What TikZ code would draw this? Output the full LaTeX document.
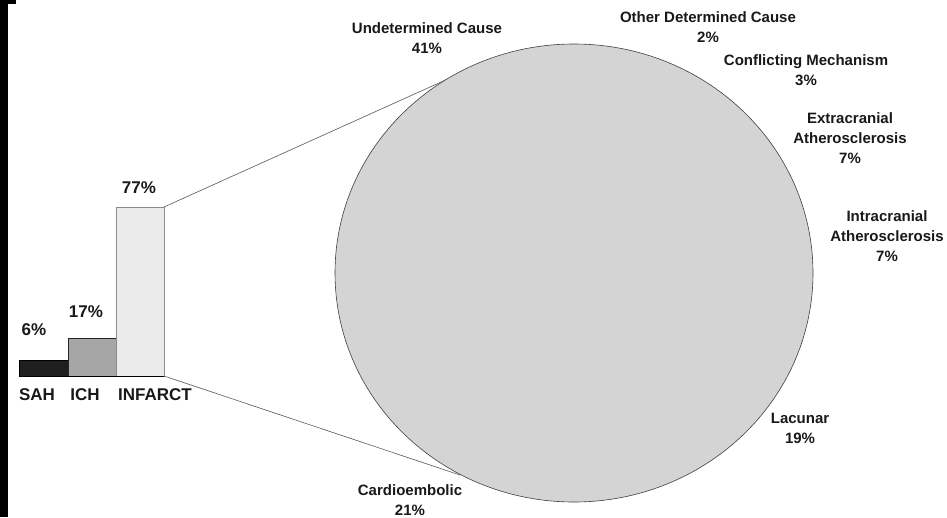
\documentclass[tikz,border=0pt]{standalone}
\usepackage{fontspec}
\setmainfont{Liberation Sans}
\usetikzlibrary{shapes.geometric}
\begin{document}
\begin{tikzpicture}[x=1pt,y=-1pt,
  lbl/.style={font=\bfseries\fontsize{15}{20}\selectfont, align=center, text=black!90, inner sep=0},
  barlbl/.style={font=\bfseries\fontsize{17}{20}\selectfont, text=black!90, inner sep=0},
  bar/.style={anchor=south west, inner sep=0, outer sep=0},
  zoomline/.style={draw=black!65, line width=0.6pt}]
\useasboundingbox (0,0) rectangle (947,517);
\fill[white] (0,0) rectangle (947,517);
% bars
\node[bar, fill=black!88, draw=black, line width=0.6pt, minimum height=16, minimum width=49] (sah) at (19,376) {};
\node[bar, fill=black!35, draw=black!85, line width=0.6pt, minimum height=38, minimum width=48] (ich) at (68,376) {};
\node[bar, fill=black!8, draw=black!45, line width=0.6pt, minimum height=169, minimum width=48] (inf) at (116,376) {};
\draw[black, line width=0.8pt] (sah.south west) -- (inf.south east);
% zoom connectors
\coordinate (t1) at (450,78);
\coordinate (t2) at (460,475);
\draw[zoomline] (inf.north east) -- (t1);
\draw[zoomline] (inf.south east) -- (t2);
% pie
\node[ellipse, fill=black!17, draw=black!75, line width=0.6pt, minimum width=478, minimum height=458, inner sep=0] (pie) at (574,273) {};
% bar labels
\node[barlbl] (p6) at (34,330) {6\%};
\node[barlbl] (p17) at (86,312) {17\%};
\node[barlbl] (p77) at (139,188) {77\%};
\node[barlbl] (lsah) at (37,395) {SAH};
\node[barlbl] (lich) at (85,395) {ICH};
\node[barlbl] (linf) at (155,395) {INFARCT};
% pie labels
\node[lbl] (und) at (427,38) {Undetermined Cause\\41\%};
\node[lbl] (oth) at (708,27) {Other Determined Cause\\2\%};
\node[lbl] (con) at (806,70) {Conflicting Mechanism\\3\%};
\node[lbl] (ext) at (850,138) {Extracranial\\Atherosclerosis\\7\%};
\node[lbl] (int) at (887,236) {Intracranial\\Atherosclerosis\\7\%};
\node[lbl] (lac) at (800,428) {Lacunar\\19\%};
\node[lbl] (car) at (410,500) {Cardioembolic\\21\%};
% black scan edge
\fill[black] (0,0) rectangle (8,517);
\fill[black] (0,0) rectangle (16,4);
\end{tikzpicture}
\end{document}
